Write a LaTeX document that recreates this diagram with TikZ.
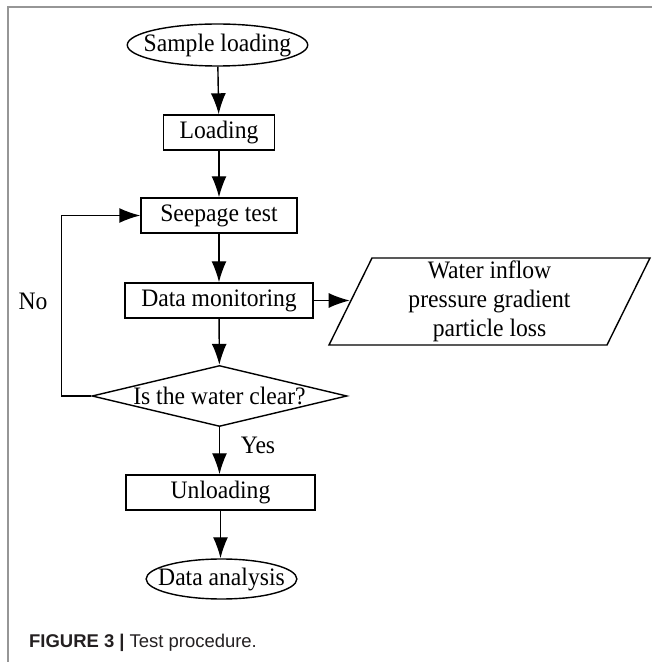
\documentclass[tikz,border=0pt]{standalone}
\usepackage{fontspec}
\setmainfont{Liberation Serif}[FakeStretch=0.94]
\newfontfamily\capfont{Liberation Sans}
\usetikzlibrary{shapes.geometric,arrows.meta}

\begin{document}
\begin{tikzpicture}[
        every node/.style={font=\fontsize{14.3}{16.5}\selectfont},
        procbox/.style={rectangle,draw,line width=0.8pt,inner sep=0pt,minimum height=0.7cm},
        termnode/.style={ellipse,draw,line width=0.8pt,inner xsep=-0.2cm,inner ysep=0.04cm},
        flowline/.style={line width=0.8pt,-{Latex[length=0.42cm,width=0.3cm]}}
    ]
            \useasboundingbox (0,0) rectangle (13.04,13.24);
            \xdefinecolor{framegray}{RGB}{150, 150, 150}
            \xdefinecolor{captext}{RGB}{35, 31, 32}

            % Draw the frame lines at top and left
            \draw[framegray, line width=0.8pt] (0.16,0) |- (13.04,13.10);

            % Draw the main column of the flow chart
            \node[termnode, minimum width=3.54cm, minimum height=0.84cm] (Start) at (4.35, 12.34) {Sample loading};
            \node[procbox, minimum width=2.22cm] (Load) at (4.38, 10.59) {Loading};
            \node[procbox, minimum width=3.12cm] (Seep) at (4.38, 8.93) {Seepage test};
            \node[procbox, minimum width=3.76cm] (Monitor) at (4.38, 7.23) {Data monitoring};
            \node[diamond, draw, line width=0.8pt, aspect=4.18, inner sep=-1pt, minimum width=5.1cm, minimum height=1.22cm] (Clear) at (4.39, 5.32) {Is the water clear?};
            \node[procbox, minimum width=3.78cm] (Unload) at (4.41, 3.39) {Unloading};
            \node[termnode, minimum width=3.0cm, minimum height=0.8cm] (Analysis) at (4.43, 1.66) {Data analysis};

            % Draw the output box on the right
            \node[trapezium, draw, line width=0.8pt, trapezium left angle=63.7, trapezium right angle=116.3,
                trapezium stretches body=true, minimum width=6.42cm, minimum height=1.74cm,
                inner ysep=0.06cm, align=center] (Output) at (9.79, 7.21)
                {Water inflow\\pressure gradient\\particle loss};

            % Connect the steps
            \draw[flowline] (Start) -- (Load);
            \draw[flowline] (Load) -- (Seep);
            \draw[flowline] (Seep) -- (Monitor);
            \draw[flowline] (Monitor) -- (Clear);
            \draw[flowline] (Clear.south) -- (Clear.south |- Unload.north);
            \draw[flowline] (Unload.south) -- (Unload.south |- Analysis.north);
            \draw[flowline] (Monitor.east) -- (Output.west |- Monitor.east);

            % Loop back when the water is not clear
            \draw[flowline] (Clear.west) -- ++(-0.6,0) |- (Seep.west);
            \node (No) at (0.66, 7.22) {No};
            \node (Yes) at (5.16, 4.34) {Yes};

            % Caption
            \node[anchor=west, text=captext, font=\capfont\fontsize{10.5}{12.5}\selectfont] (Caption) at (0.46, 0.38)
                {\textbf{FIGURE 3 |} Test procedure.};
\end{tikzpicture}
\end{document}
